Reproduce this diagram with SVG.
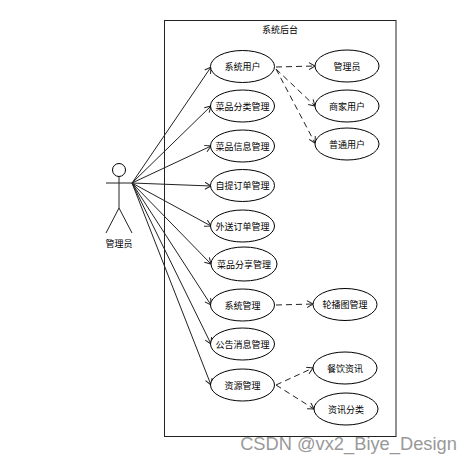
<svg xmlns="http://www.w3.org/2000/svg" width="472" height="463" viewBox="0 0 472 463">
<style>
text{font-family:"Noto Sans CJK SC","Liberation Sans",sans-serif;font-size:9px;fill:#000;text-anchor:middle}
.u{fill:#fff;stroke:#000;stroke-width:1}
.l{fill:none;stroke:#222;stroke-width:1}
.d{fill:none;stroke:#222;stroke-width:1;stroke-dasharray:6 4}
.h{fill:none;stroke:#222;stroke-width:1}
</style>
<defs>
<marker id="a" markerWidth="9" markerHeight="9" refX="7" refY="4" orient="auto" markerUnits="userSpaceOnUse"><path class="h" d="M1 0.5L7 4L1 7.5"/></marker>
</defs>
<rect width="472" height="463" fill="#fff"/>
<g id="frame"><rect x="164.500" y="20.500" width="231.500" height="416" fill="#fff" stroke="#222" stroke-width="1"/><text x="280" y="33">系统后台</text></g>
<g id="connectors">
<path class="l" marker-end="url(#a)" d="M132 183L211 67"/>
<path class="l" marker-end="url(#a)" d="M132 183L211 106"/>
<path class="l" marker-end="url(#a)" d="M132 183L211 146"/>
<path class="l" marker-end="url(#a)" d="M132 183L211 186"/>
<path class="l" marker-end="url(#a)" d="M132 183L211 226"/>
<path class="l" marker-end="url(#a)" d="M132 183L211 264"/>
<path class="l" marker-end="url(#a)" d="M132 183L211 305"/>
<path class="l" marker-end="url(#a)" d="M132 183L211 344"/>
<path class="l" marker-end="url(#a)" d="M132 183L211 385"/>
<path class="d" marker-end="url(#a)" d="M276 67L315 66"/>
<path class="d" marker-end="url(#a)" d="M276 69L315 106"/>
<path class="d" marker-end="url(#a)" d="M276 69L315 143"/>
<path class="d" marker-end="url(#a)" d="M276 305L313 304"/>
<path class="d" marker-end="url(#a)" d="M276 385L313 368"/>
<path class="d" marker-end="url(#a)" d="M276 385L314 409"/>
</g>
<g id="actor"><circle class="u" cx="119" cy="170" r="6.500"/><path class="l" d="M119 176.500V208M106 183H132M119 208L106 233M119 208L132 233"/><text x="119" y="247">管理员</text></g>
<g id="n1"><ellipse class="u" cx="242.500" cy="66.500" rx="32" ry="16"/><text x="242.500" y="70">系统用户</text></g>
<g id="n2"><ellipse class="u" cx="242.500" cy="106" rx="32" ry="16"/><text x="242.500" y="109.500">菜品分类管理</text></g>
<g id="n3"><ellipse class="u" cx="242.500" cy="146" rx="32" ry="16"/><text x="242.500" y="149.500">菜品信息管理</text></g>
<g id="n4"><ellipse class="u" cx="242.500" cy="185.500" rx="32" ry="16"/><text x="242.500" y="189">自提订单管理</text></g>
<g id="n5"><ellipse class="u" cx="242.500" cy="226" rx="32" ry="16"/><text x="242.500" y="229.500">外送订单管理</text></g>
<g id="n6"><ellipse class="u" cx="244" cy="264" rx="33" ry="17"/><text x="244" y="267.500">菜品分享管理</text></g>
<g id="n7"><ellipse class="u" cx="242.500" cy="305" rx="32" ry="16"/><text x="242.500" y="308.500">系统管理</text></g>
<g id="n8"><ellipse class="u" cx="242.500" cy="344" rx="32" ry="16"/><text x="242.500" y="347.500">公告消息管理</text></g>
<g id="n9"><ellipse class="u" cx="242.500" cy="385" rx="32" ry="16"/><text x="242.500" y="388.500">资源管理</text></g>
<g id="n10"><ellipse class="u" cx="347" cy="66" rx="32" ry="16"/><text x="347" y="69.500">管理员</text></g>
<g id="n11"><ellipse class="u" cx="347" cy="106" rx="32" ry="16"/><text x="347" y="109.500">商家用户</text></g>
<g id="n12"><ellipse class="u" cx="347" cy="144" rx="32" ry="16"/><text x="347" y="147.500">普通用户</text></g>
<g id="n13"><ellipse class="u" cx="345" cy="304.500" rx="32" ry="16"/><text x="345" y="308">轮播图管理</text></g>
<g id="n14"><ellipse class="u" cx="345" cy="368" rx="32" ry="16"/><text x="345" y="371.500">餐饮资讯</text></g>
<g id="n15"><ellipse class="u" cx="346" cy="409" rx="32" ry="16"/><text x="346" y="412.500">资讯分类</text></g>
<text x="348.500" y="450" style="font-family:'Liberation Sans',sans-serif;font-size:18.300px;fill:#999">CSDN @vx2_Biye_Design</text>
</svg>
